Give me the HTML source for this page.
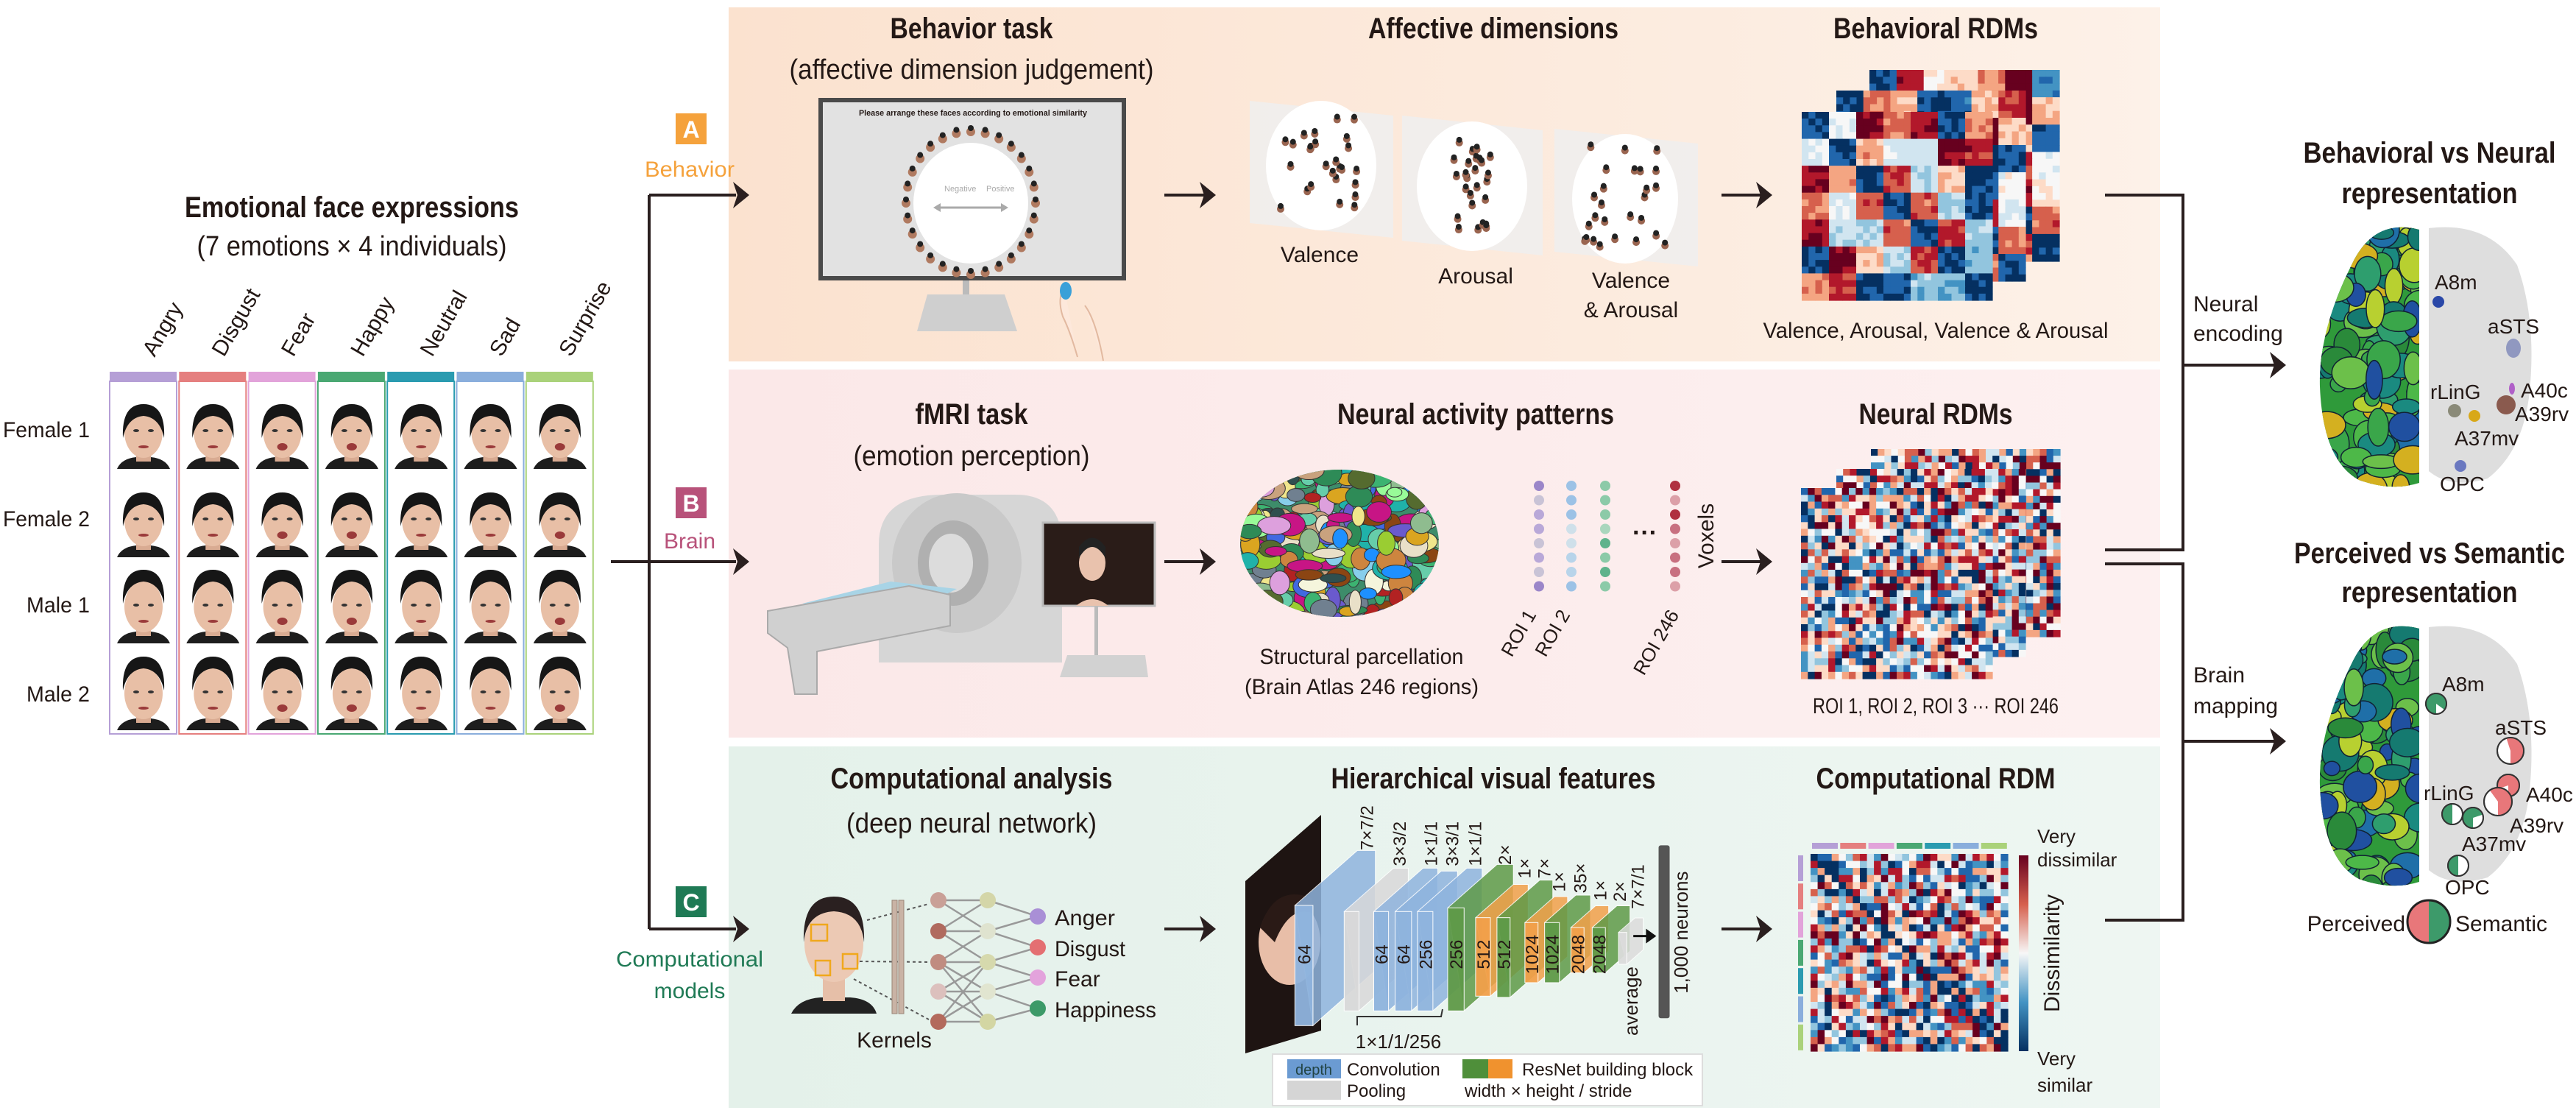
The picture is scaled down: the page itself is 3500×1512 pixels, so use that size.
<!DOCTYPE html>
<html><head><meta charset="utf-8">
<style>
html,body{margin:0;padding:0;background:#fff;width:3500px;height:1512px;overflow:hidden;}
svg{display:block;}
text{font-family:"Liberation Sans",sans-serif;fill:#231815;}
.t{font-weight:bold;font-size:40px;text-anchor:middle;}
.s{font-size:38px;text-anchor:middle;}
.l{font-size:30px;}
</style></head><body>
<svg id="S" xmlns="http://www.w3.org/2000/svg" width="3500" height="1512" viewBox="0 0 3500 1512">
<defs>
<linearGradient id="gA" x1="0" x2="1"><stop offset="0" stop-color="#fbe2cf"/><stop offset="1" stop-color="#fdf1e8"/></linearGradient>
<linearGradient id="gB" x1="0" x2="1"><stop offset="0" stop-color="#fbe8e8"/><stop offset="1" stop-color="#fdf0f0"/></linearGradient>
<linearGradient id="gC" x1="0" x2="1"><stop offset="0" stop-color="#e4f1ea"/><stop offset="1" stop-color="#eef6f2"/></linearGradient>
<linearGradient id="cb" x1="0" y1="0" x2="0" y2="1"><stop offset="0" stop-color="#67001f"/><stop offset=".25" stop-color="#d6604d"/><stop offset=".5" stop-color="#f7f7f7"/><stop offset=".75" stop-color="#4393c3"/><stop offset="1" stop-color="#053061"/></linearGradient>
<clipPath id="brB"><ellipse cx="1820" cy="738" rx="135" ry="100"/></clipPath>
<clipPath id="h1"><path d="M3287,312 Q3225,296 3195,360 Q3150,450 3152,525 Q3156,625 3205,652 Q3250,668 3287,656 Z"/></clipPath>
<clipPath id="h2"><path d="M3287,854 Q3225,838 3195,902 Q3150,992 3152,1067 Q3156,1167 3205,1194 Q3250,1210 3287,1198 Z"/></clipPath>
</defs>
<rect x="990" y="10" width="1945" height="481" fill="url(#gA)"/>
<rect x="990" y="502" width="1945" height="500" fill="url(#gB)"/>
<rect x="990" y="1014" width="1945" height="491" fill="url(#gC)"/>
<g id="dyn"></g>

<g stroke="#2a1f1f" stroke-width="4" fill="none">
<path d="M830,763 H1000"/>
<path d="M882,265 V1262"/>
<path d="M882,265 H1000"/><path d="M882,1262 H1000"/>
<path d="M1582,265 H1640"/><path d="M1582,763 H1640"/><path d="M1582,1262 H1640"/>
<path d="M2339,265 H2395"/><path d="M2339,763 H2395"/><path d="M2339,1262 H2395"/>
<path d="M2860,265 H2966 V747 H2860"/>
<path d="M2966,496 H3090"/>
<path d="M2860,766 H2966 V1250 H2860"/>
<path d="M2966,1007 H3090"/>
</g>
<g fill="#2a1f1f">
<path d="M1018,265 l-22,-18 l6,18 l-6,18z"/><path d="M1018,763 l-22,-18 l6,18 l-6,18z"/><path d="M1018,1262 l-22,-18 l6,18 l-6,18z"/>
<path d="M1652,265 l-22,-18 l6,18 l-6,18z"/><path d="M1652,763 l-22,-18 l6,18 l-6,18z"/><path d="M1652,1262 l-22,-18 l6,18 l-6,18z"/>
<path d="M2408,265 l-22,-18 l6,18 l-6,18z"/><path d="M2408,763 l-22,-18 l6,18 l-6,18z"/><path d="M2408,1262 l-22,-18 l6,18 l-6,18z"/>
<path d="M3106,496 l-22,-18 l6,18 l-6,18z"/><path d="M3106,1007 l-22,-18 l6,18 l-6,18z"/>
</g>

<rect x="918" y="154" width="42" height="42" fill="#f5a23c"/><text x="939" y="187" text-anchor="middle" style="font-size:32px;font-weight:bold;fill:#fff">A</text>
<text x="937" y="240" text-anchor="middle" style="font-size:30px;fill:#f5a23c" textLength="122" lengthAdjust="spacingAndGlyphs">Behavior</text>
<rect x="918" y="662" width="42" height="42" fill="#b8527a"/><text x="939" y="695" text-anchor="middle" style="font-size:32px;font-weight:bold;fill:#fff">B</text>
<text x="937" y="745" text-anchor="middle" style="font-size:30px;fill:#b8527a">Brain</text>
<rect x="918" y="1204" width="42" height="42" fill="#1f7a55"/><text x="939" y="1237" text-anchor="middle" style="font-size:32px;font-weight:bold;fill:#fff">C</text>
<text x="937" y="1313" text-anchor="middle" style="font-size:30px;fill:#1f7a55" textLength="200" lengthAdjust="spacingAndGlyphs">Computational</text>
<text x="937" y="1356" text-anchor="middle" style="font-size:30px;fill:#1f7a55">models</text>

<text class="t" x="478" y="295" textLength="454" lengthAdjust="spacingAndGlyphs">Emotional face expressions</text>
<text class="s" x="478" y="347" textLength="421" lengthAdjust="spacingAndGlyphs">(7 emotions × 4 individuals)</text>
<text class="t" x="1320" y="52" textLength="221" lengthAdjust="spacingAndGlyphs">Behavior task</text>
<text class="s" x="1320" y="107" textLength="495" lengthAdjust="spacingAndGlyphs">(affective dimension judgement)</text>
<text class="t" x="2029" y="52" textLength="340" lengthAdjust="spacingAndGlyphs">Affective dimensions</text>
<text class="t" x="2630" y="52" textLength="278" lengthAdjust="spacingAndGlyphs">Behavioral RDMs</text>
<text class="t" x="1320" y="576" textLength="153" lengthAdjust="spacingAndGlyphs">fMRI task</text>
<text class="s" x="1320" y="632" textLength="321" lengthAdjust="spacingAndGlyphs">(emotion perception)</text>
<text class="t" x="2005" y="576" textLength="376" lengthAdjust="spacingAndGlyphs">Neural activity patterns</text>
<text class="t" x="2630" y="576" textLength="209" lengthAdjust="spacingAndGlyphs">Neural RDMs</text>
<text class="t" x="1320" y="1071" textLength="383" lengthAdjust="spacingAndGlyphs">Computational analysis</text>
<text class="s" x="1320" y="1131" textLength="340" lengthAdjust="spacingAndGlyphs">(deep neural network)</text>
<text class="t" x="2029" y="1071" textLength="441" lengthAdjust="spacingAndGlyphs">Hierarchical visual features</text>
<text class="t" x="2630" y="1071" textLength="325" lengthAdjust="spacingAndGlyphs">Computational RDM</text>
<text class="t" x="3301" y="221" textLength="343" lengthAdjust="spacingAndGlyphs">Behavioral vs Neural</text>
<text class="t" x="3301" y="276" textLength="239" lengthAdjust="spacingAndGlyphs">representation</text>
<text class="t" x="3301" y="765" textLength="368" lengthAdjust="spacingAndGlyphs">Perceived vs Semantic</text>
<text class="t" x="3301" y="818" textLength="239" lengthAdjust="spacingAndGlyphs">representation</text>

<text class="l" x="4" y="594" textLength="118" lengthAdjust="spacingAndGlyphs">Female 1</text>
<text class="l" x="4" y="715" textLength="118" lengthAdjust="spacingAndGlyphs">Female 2</text>
<text class="l" x="36" y="832" textLength="86" lengthAdjust="spacingAndGlyphs">Male 1</text>
<text class="l" x="36" y="953" textLength="86" lengthAdjust="spacingAndGlyphs">Male 2</text>

<rect x="1112" y="133" width="418" height="248" fill="#4a4a4a"/>
<rect x="1118" y="139" width="406" height="236" fill="#e2e2e2"/>
<text x="1322" y="157" text-anchor="middle" style="font-size:11px;font-weight:bold" textLength="310" lengthAdjust="spacingAndGlyphs">Please arrange these faces according to emotional similarity</text>
<ellipse cx="1319" cy="276" rx="78" ry="82" fill="#fff"/>
<g id="ring"></g>
<path d="M1272,282 H1366" stroke="#aaa" stroke-width="3"/><path d="M1268,282 l10,-6 v12z M1370,282 l-10,-6 v12z" fill="#aaa"/>
<text x="1283" y="260" style="font-size:11px;fill:#aaa">Negative</text><text x="1340" y="260" style="font-size:11px;fill:#aaa">Positive</text>
<rect x="1308" y="381" width="9" height="30" fill="#bbb"/>
<path d="M1260,400 H1365 L1382,450 H1246Z" fill="#cfcfcf"/>
<path d="M1446,390 q-10,15 -2,40 q10,20 20,55 M1474,415 q15,20 25,75" stroke="#e2b9a0" stroke-width="2" fill="#fde8db"/>
<ellipse cx="1448" cy="395" rx="8" ry="12" fill="#3aa0d8"/>

<path d="M1698,137 L1893,157 V323 L1698,303Z" fill="#eeeeee" opacity=".85"/>
<ellipse cx="1795" cy="225" rx="75" ry="88" fill="#fff"/>
<path d="M1905,157 L2096,177 V347 L1905,327Z" fill="#eeeeee" opacity=".85"/>
<ellipse cx="2000" cy="253" rx="75" ry="88" fill="#fff"/>
<path d="M2112,175 L2307,195 V362 L2112,342Z" fill="#eeeeee" opacity=".85"/>
<ellipse cx="2208" cy="270" rx="72" ry="88" fill="#fff"/>
<g id="clus"></g>
<text class="l s" x="1793" y="356" style="font-size:30px">Valence</text>
<text class="l s" x="2005" y="385" style="font-size:30px">Arousal</text>
<text class="l s" x="2216" y="391" style="font-size:30px">Valence</text>
<text class="l s" x="2216" y="431" style="font-size:30px">&amp; Arousal</text>
<g id="rdmA"></g>
<text x="2630" y="459" text-anchor="middle" style="font-size:30px" textLength="469" lengthAdjust="spacingAndGlyphs">Valence, Arousal, Valence &amp; Arousal</text>

<path d="M1194,900 V740 Q1194,672 1280,672 H1380 Q1443,672 1443,740 V900Z" fill="#d6d6d6"/>
<ellipse cx="1300" cy="765" rx="88" ry="95" fill="#c9c9c9"/>
<ellipse cx="1295" cy="765" rx="48" ry="58" fill="#b0b0b0"/>
<ellipse cx="1292" cy="765" rx="30" ry="40" fill="#dcdcdc"/>
<path d="M1090,820 L1210,790 L1300,800 L1240,830Z" fill="#a8d4e6"/>
<path d="M1043,830 L1235,796 L1291,808 V850 L1110,885 V943 L1080,943 L1070,880 L1043,860Z" fill="#d0d0d0" stroke="#aaa" stroke-width="2"/>
<rect x="1417" y="710" width="152" height="113" fill="#2a1c18" stroke="#bbb" stroke-width="3"/>
<ellipse cx="1484" cy="765" rx="18" ry="24" fill="#e9c2ad"/><path d="M1466,758 q18,-30 36,0 v-15 q-18,-25 -36,0z" fill="#222"/>
<path d="M1462,823 q22,-18 44,0z" fill="#e9c2ad"/>
<rect x="1487" y="823" width="5" height="68" fill="#bbb"/>
<path d="M1450,890 H1556 L1560,920 H1440Z" fill="#d2d2d2"/>
<ellipse cx="1820" cy="738" rx="135" ry="100" fill="#3d8c6a"/>
<g id="parc" clip-path="url(#brB)"></g>
<text x="1850" y="902" text-anchor="middle" style="font-size:30px" textLength="277" lengthAdjust="spacingAndGlyphs">Structural parcellation</text>
<text x="1850" y="943" text-anchor="middle" style="font-size:30px" textLength="318" lengthAdjust="spacingAndGlyphs">(Brain Atlas 246 regions)</text>
<g id="dots"></g>
<text x="2218" y="735" style="font-size:34px;font-weight:bold">···</text>
<text transform="translate(2328,728) rotate(-90)" text-anchor="middle" style="font-size:30px">Voxels</text>
<text transform="translate(2088,835) rotate(-60)" text-anchor="end" style="font-size:26px">ROI 1</text>
<text transform="translate(2134,835) rotate(-60)" text-anchor="end" style="font-size:26px">ROI 2</text>
<text transform="translate(2282,835) rotate(-60)" text-anchor="end" style="font-size:26px">ROI 246</text>
<g id="rdmB"></g>
<text x="2630" y="969" text-anchor="middle" style="font-size:30px" textLength="334" lengthAdjust="spacingAndGlyphs">ROI 1, ROI 2, ROI 3 ··· ROI 246</text>

<path d="M1075,1377 q10,-20 40,-22 h40 q30,2 36,22z" fill="#222"/>
<rect x="1118" y="1320" width="30" height="40" fill="#e6bfa8"/>
<ellipse cx="1133" cy="1282" rx="40" ry="52" fill="#ecc9b4"/>
<path d="M1092,1280 q-2,-62 41,-62 q43,0 41,62 q-4,-40 -41,-42 q-37,2 -41,42z" fill="#2a2020"/>
<g fill="none" stroke="#f0a81c" stroke-width="2.5"><rect x="1102" y="1256" width="22" height="22"/><rect x="1108" y="1305" width="20" height="20"/><rect x="1145" y="1296" width="20" height="20"/></g>
<g stroke="#555" stroke-width="2" stroke-dasharray="4,4" fill="none"><path d="M1178,1250 L1262,1228"/><path d="M1168,1306 L1262,1307"/><path d="M1160,1330 L1262,1385"/></g>
<rect x="1212" y="1223" width="7" height="154" fill="#c9b3a5" stroke="#9a8577"/><rect x="1221" y="1223" width="7" height="154" fill="#c9b3a5" stroke="#9a8577"/>
<g id="net"></g>
<text class="l" x="1433" y="1257" textLength="82" lengthAdjust="spacingAndGlyphs">Anger</text>
<text class="l" x="1433" y="1299" textLength="96" lengthAdjust="spacingAndGlyphs">Disgust</text>
<text class="l" x="1433" y="1340">Fear</text>
<text class="l" x="1433" y="1382" textLength="138" lengthAdjust="spacingAndGlyphs">Happiness</text>
<text class="l" x="1215" y="1423" text-anchor="middle">Kernels</text>

<path d="M1692,1197 L1795,1107 V1400 L1692,1431Z" fill="#1e1412"/>
<ellipse cx="1752" cy="1280" rx="42" ry="58" fill="#e8bea8"/>
<path d="M1712,1260 q20,-60 70,-40 v20 q-30,-10 -50,40z" fill="#2a1a16"/>
<g id="cnn"></g>
<path d="M1844,1393 v-12 H1958 l2,-10" stroke="#333" stroke-width="2" fill="none"/>
<text x="1900" y="1424" text-anchor="middle" style="font-size:26px">1×1/1/256</text>
<rect x="1729" y="1432" width="584" height="70" fill="#fff" stroke="#ddd" stroke-width="2"/>
<rect x="1749" y="1439" width="73" height="26" fill="#6b9bd2"/><text x="1785" y="1460" text-anchor="middle" style="font-size:20px;fill:#244">depth</text>
<text x="1830" y="1461" style="font-size:24px">Convolution</text>
<rect x="1749" y="1468" width="73" height="26" fill="#d5d5d5"/><text x="1830" y="1490" style="font-size:24px">Pooling</text>
<rect x="1987" y="1439" width="35" height="26" fill="#4f8f3a"/><rect x="2022" y="1439" width="33" height="26" fill="#f0922e"/>
<text x="2068" y="1461" style="font-size:24px">ResNet building block</text>
<text x="1990" y="1490" style="font-size:24px">width × height / stride</text>

<g id="rdmC"></g>
<rect x="2743" y="1162" width="13" height="266" fill="url(#cb)"/>
<text x="2768" y="1145" style="font-size:26px">Very</text>
<text x="2768" y="1177" style="font-size:26px">dissimilar</text>
<text transform="translate(2798,1295) rotate(-90)" text-anchor="middle" style="font-size:30px">Dissimilarity</text>
<text x="2768" y="1447" style="font-size:26px">Very</text>
<text x="2768" y="1483" style="font-size:26px">similar</text>

<text class="l" x="2980" y="423">Neural</text>
<text class="l" x="2980" y="463">encoding</text>
<text class="l" x="2980" y="927">Brain</text>
<text class="l" x="2980" y="969">mapping</text>

<path d="M3300,310 Q3380,300 3420,360 Q3445,430 3438,520 Q3432,610 3380,650 Q3330,665 3300,640Z" fill="#dedede"/>
<path d="M3300,852 Q3380,842 3420,902 Q3445,972 3438,1062 Q3432,1152 3380,1192 Q3330,1207 3300,1182Z" fill="#dedede"/>
<path d="M3287,312 Q3225,296 3195,360 Q3150,450 3152,525 Q3156,625 3205,652 Q3250,668 3287,656 Z" fill="#2f9a3a"/>
<path d="M3287,854 Q3225,838 3195,902 Q3150,992 3152,1067 Q3156,1167 3205,1194 Q3250,1210 3287,1198 Z" fill="#2f9a3a"/>
<g id="h1g" clip-path="url(#h1)"></g><g id="h2g" clip-path="url(#h2)"></g>

<g style="font-size:28px">
<text x="3308" y="393">A8m</text><text x="3380" y="453">aSTS</text><text x="3302" y="542">rLinG</text>
<text x="3425" y="540">A40c</text><text x="3417" y="572">A39rv</text><text x="3335" y="605">A37mv</text><text x="3315" y="667">OPC</text>
</g>
<circle cx="3313" cy="410" r="8" fill="#2a48a8"/>
<ellipse cx="3415" cy="473" rx="10" ry="13" fill="#9098c0"/>
<ellipse cx="3413" cy="528" rx="4" ry="8" fill="#b060c8"/>
<circle cx="3405" cy="550" r="13" fill="#8a5a4e"/>
<circle cx="3335" cy="558" r="9" fill="#8a8a78"/>
<circle cx="3362" cy="565" r="8" fill="#d8a818"/>
<circle cx="3343" cy="633" r="8" fill="#6a78c0"/>

<g style="font-size:28px">
<text x="3318" y="939">A8m</text><text x="3390" y="998">aSTS</text><text x="3293" y="1087">rLinG</text>
<text x="3432" y="1089">A40c</text><text x="3410" y="1131">A39rv</text><text x="3345" y="1156">A37mv</text><text x="3322" y="1215">OPC</text>
</g>
<g id="pies"></g>
<text x="3268" y="1265" text-anchor="end" style="font-size:30px">Perceived</text>
<text x="3336" y="1265" style="font-size:30px">Semantic</text>
</svg>
<script>
(function(){
var NS="http://www.w3.org/2000/svg";
function el(p,t,a){var e=document.createElementNS(NS,t);for(var k in a)e.setAttribute(k,a[k]);p.appendChild(e);return e;}
var seed=7;function R(){seed=(seed*16807)%2147483647;return (seed-1)/2147483646;}
function g(id){return document.getElementById(id);}
var dyn=g('dyn');
var cols=['#b59fd6','#e57f7f','#e2a3da','#4aa873','#2a9bb0','#8aaedc','#aad27a'];
var names=['Angry','Disgust','Fear','Happy','Neutral','Sad','Surprise'];
for(var c=0;c<7;c++){var x=148+c*94.3;
 el(dyn,'rect',{x:x+1,y:505,width:91,height:13,fill:cols[c]});
 el(dyn,'rect',{x:x+1,y:518,width:91,height:479,fill:'#fff',stroke:cols[c],'stroke-width':2});
 var t=el(dyn,'text',{transform:'translate('+(x+62)+',486) rotate(-60)',style:'font-size:30px'});t.textContent=names[c];
 for(var r=0;r<4;r++){var cy=[585,705,822,940][r],cx=x+47,m=r>=2;
  el(dyn,'path',{d:'M'+(cx-36)+','+(cy+52)+' q6,-14 26,-16 h20 q20,2 26,16z',fill:'#1d1d1d'});
  el(dyn,'rect',{x:cx-10,y:cy+22,width:20,height:20,fill:'#d9ab92'});
  el(dyn,'ellipse',{cx:cx,cy:cy+2,rx:26,ry:35,fill:'#e8bfa6'});
  el(dyn,'path',{d:'M'+(cx-28)+','+(cy+(m?-2:10))+' q-2,-46 28,-46 q30,0 28,46 q-6,-28 -28,-30 q-22,2 -28,30z',fill:'#161616'});
  el(dyn,'ellipse',{cx:cx-10,cy:cy,rx:4,ry:2,fill:'#333'});el(dyn,'ellipse',{cx:cx+10,cy:cy,rx:4,ry:2,fill:'#333'});
  el(dyn,'ellipse',{cx:cx,cy:cy+22,rx:7,ry:(c==3||c==6||c==2)?5:2,fill:'#9a3a3a'});
 }}
var ring=g('ring');for(var i=0;i<28;i++){var a=i/28*Math.PI*2;el(ring,'circle',{cx:1319+88*Math.cos(a),cy:276+97*Math.sin(a),r:6,fill:'#b07a60'});el(ring,'circle',{cx:1319+88*Math.cos(a),cy:271+97*Math.sin(a),r:4,fill:'#222'});}
var cl=g('clus');[[1795,225],[2000,253],[2208,270]].forEach(function(p,k){for(var i=0;i<26;i++){var dx=(R()-.5)*(k==1?50:110),dy=(R()-.5)*140;el(cl,'circle',{cx:p[0]+dx,cy:p[1]+dy,r:5,fill:'#9a6550'});el(cl,'circle',{cx:p[0]+dx,cy:p[1]+dy-4,r:4,fill:'#222'});}});
var P=['#053061','#2166ac','#4393c3','#92c5de','#d1e5f0','#f7f7f7','#fddbc7','#f4a582','#d6604d','#b2182b','#67001f'];
function col(v){v=Math.max(0,Math.min(.999,v));return P[Math.floor(v*11)];}
function mat(pid,x,y,w,h,n,mode,bv){var G=g(pid),cw=w/n,ch=h/n;
 for(var i=0;i<n;i++)for(var j=0;j<n;j++){var v;
  if(mode=='b'){v=bv[Math.floor(i/4)][Math.floor(j/4)]+(R()-.5)*.12;if(i==j)v=0;}
  else if(mode=='d'){v=R();if(i==j)v=.05;}
  else {v=R();}
  el(G,'rect',{x:(x+j*cw).toFixed(1),y:(y+i*ch).toFixed(1),width:(cw+.6).toFixed(1),height:(ch+.6).toFixed(1),fill:col(v)});}}
function blocks(){var b=[];for(var i=0;i<7;i++){b[i]=[];}for(var i=0;i<7;i++)for(var j=0;j<=i;j++){var v=i==j?.1:R();b[i][j]=v;b[j][i]=v;}return b;}
mat('rdmA',2540,95,258,260,28,'b',blocks());
mat('rdmA',2495,123,257,259,28,'b',blocks());
mat('rdmA',2448,152,259,256,28,'b',blocks());
mat('rdmB',2542,610,257,255,28,'r');
mat('rdmB',2495,637,257,255,28,'r');
mat('rdmB',2447,663,260,259,28,'r');
mat('rdmC',2460,1160,268,268,28,'d');
var G=g('rdmC');for(var c=0;c<7;c++){el(G,'rect',{x:2462+c*38.3,y:1145,width:35,height:8,fill:cols[c]});el(G,'rect',{x:2443,y:1162+c*38.3,width:7,height:35,fill:cols[c]});}
var pc=['#2e8b57','#3cb371','#8fbc8f','#e9e0c8','#c9a27e','#8b4513','#4169e1','#6a5acd','#dda0dd','#b22222','#20b2aa','#f5f5dc','#9acd32','#daa520','#708090','#1e90ff','#66cdaa','#c71585','#f0e68c','#556b2f','#87ceeb','#cd853f','#2f4f4f','#98fb98'];
var pa=g('parc');for(var i=0;i<280;i++){var cx=1685+R()*270,cy=638+R()*200;el(pa,'ellipse',{cx:cx,cy:cy,rx:8+R()*16,ry:6+R()*12,fill:pc[Math.floor(R()*pc.length)],stroke:'#333','stroke-width':1});}
var d=g('dots');var dc=[['#9b86c9','#b9a8d8','#c9c3d6'],['#9cc2e6','#b8d4ea','#cfe0ea'],['#5fb38c','#8ccaa8','#a9d6bd'],['#b03040','#c87080','#dca0a8']];
[2091,2135,2181,2276].forEach(function(x,k){for(var i=0;i<8;i++)el(d,'circle',{cx:x,cy:660+i*19.5,r:7,fill:dc[k][Math.floor(R()*3)]});});
var nt=g('net');var y1=[1223,1265,1307,1347,1388],y3=[1245,1287,1328,1370];
for(var i=0;i<5;i++){for(var j=0;j<5;j++)if(Math.abs(i-j)<=1||((i+j)%3==0&&Math.abs(i-j)<3))el(nt,'line',{x1:1275,y1:y1[i],x2:1342,y2:y1[j],stroke:'#999','stroke-width':2.5});
 for(var k=0;k<4;k++)if(k==i||k==i-1)el(nt,'line',{x1:1342,y1:y1[i],x2:1410,y2:y3[k],stroke:'#999','stroke-width':2.5});}
var c1=['#c9a097','#b06a5e','#c08c80','#dcc0bd','#b36a5c'],c2=['#d4d6a8','#dfe3cf','#d6d9ad','#e1e5d0','#d3d6a3'],c3=['#a98fd6','#e46f72','#e3a3dc','#3c9a68'];
for(var i=0;i<5;i++){el(nt,'circle',{cx:1275,cy:y1[i],r:11,fill:c1[i]});el(nt,'circle',{cx:1342,cy:y1[i],r:11,fill:c2[i]});}
for(var k=0;k<4;k++)el(nt,'circle',{cx:1410,cy:y3[k],r:11,fill:c3[k]});
var cn=g('cnn');function X(z){return 1650+z*0.4464;}function Y(z){return 1080+z*0.3333;}
var L=[[245,300,450,940,190,'#8fb4de','64'],[395,440,475,880,150,'#d9d9d9',''],[485,530,475,880,150,'#8fb4de','64'],[550,600,475,880,140,'#8fb4de','64'],[618,665,475,880,150,'#8fb4de','256'],[710,760,460,880,150,'#5f9a48','256'],[795,840,500,820,115,'#f2a04a','512'],[860,900,500,825,130,'#5f9a48','512'],[945,985,520,765,90,'#f2a04a','1024'],[1005,1050,520,765,95,'#5f9a48','1024'],[1085,1125,540,725,75,'#f2a04a','2048'],[1150,1190,540,725,75,'#5f9a48','2048'],[1230,1255,560,690,50,'#dcdcdc','']];
L.forEach(function(l){var x0=X(l[0]),x1=X(l[1]),yt=Y(l[2]),yb=Y(l[3]),dx=l[4]*0.4464,dy=dx*0.88;
 el(cn,'path',{d:'M'+x0+','+yt+' L'+(x0+dx)+','+(yt-dy)+' L'+(x1+dx)+','+(yt-dy)+' L'+(x1+dx)+','+(yb-dy)+' L'+x1+','+yb+' Z',fill:l[5],opacity:.85,stroke:'#fff','stroke-width':1});
 el(cn,'rect',{x:x0,y:yt,width:x1-x0,height:yb-yt,fill:l[5],opacity:.95,stroke:'#fff','stroke-width':1});
 if(l[6]){var t=el(cn,'text',{transform:'translate('+((x0+x1)/2+9)+','+(Y(650))+') rotate(-90)','text-anchor':'middle',style:'font-size:24px'});t.textContent=l[6];}});
var tl=[[460,'7×7/2',225],[560,'3×3/2',290],[655,'1×1/1',290],[720,'3×3/1',290],[790,'1×1/1',290],[880,'2×',285],[940,'1×',340],[1000,'7×',340],[1045,'1×',395],[1110,'35×',400],[1170,'1×',430],[1230,'2×',435],[1285,'7×7/1',465]];
tl.forEach(function(a){var t=el(cn,'text',{transform:'translate('+(X(a[0])+10)+','+Y(a[2])+') rotate(-90)',style:'font-size:24px'});t.textContent=a[1];});
el(cn,'path',{d:'M'+X(1275)+','+Y(575)+' H'+X(1320),stroke:'#111','stroke-width':3});
el(cn,'path',{d:'M'+X(1345)+','+Y(575)+' l-14,-10 v20z',fill:'#111'});
el(cn,'rect',{x:X(1352),y:Y(205),width:15,height:Y(910)-Y(205),rx:3,fill:'#555'});
var t=el(cn,'text',{transform:'translate('+(X(1440))+','+Y(560)+') rotate(-90)','text-anchor':'middle',style:'font-size:26px'});t.textContent='1,000 neurons';
t=el(cn,'text',{transform:'translate('+(X(1270)+8)+','+Y(840)+') rotate(-90)','text-anchor':'middle',style:'font-size:26px'});t.textContent='average';
var hc=['#2a8a3a','#3aa64a','#1f6fa8','#2050a0','#1a8a80','#6cc04a','#b8d030','#d4b020','#2e9e6e','#157a70','#4db848'];
['h1g','h2g'].forEach(function(id,k){var H=g(id),o=k*542;for(var i=0;i<110;i++){el(H,'ellipse',{cx:3150+R()*140,cy:300+o+R()*370,rx:10+R()*16,ry:9+R()*18,fill:hc[Math.floor(R()*hc.length)],stroke:'#123','stroke-width':1.5});}});
var pi=g('pies');
function pie(cx,cy,r,f,left){el(pi,'circle',{cx:cx,cy:cy,r:r,fill:'#fff',stroke:'#333','stroke-width':2});
 var a=f*2*Math.PI,col=left?'#3d9a6a':'#e8777a';
 var d='M'+cx+','+cy+' L'+cx+','+(cy+r)+' A'+r+','+r+' 0 '+(f>.5?1:0)+' '+(left?1:0)+' '+(cx+(left?-1:1)*r*Math.sin(a))+','+(cy+r*Math.cos(a))+'Z';
 el(pi,'path',{d:d,fill:col});el(pi,'circle',{cx:cx,cy:cy,r:r,fill:'none',stroke:'#333','stroke-width':2});}
pie(3310,956,14,.85,true);pie(3411,1020,18,.55,false);pie(3408,1067,15,.8,false);pie(3394,1089,19,.6,false);
pie(3332,1106,14,.5,true);pie(3360,1111,14,.7,true);pie(3340,1176,14,.5,true);
el(pi,'path',{d:'M3300,1223 A29,29 0 0 0 3300,1281Z',fill:'#e8777a'});el(pi,'path',{d:'M3300,1223 A29,29 0 0 1 3300,1281Z',fill:'#3d9a6a'});
el(pi,'circle',{cx:3300,cy:1252,r:29,fill:'none',stroke:'#222','stroke-width':3});
})();
</script>
</body></html>
